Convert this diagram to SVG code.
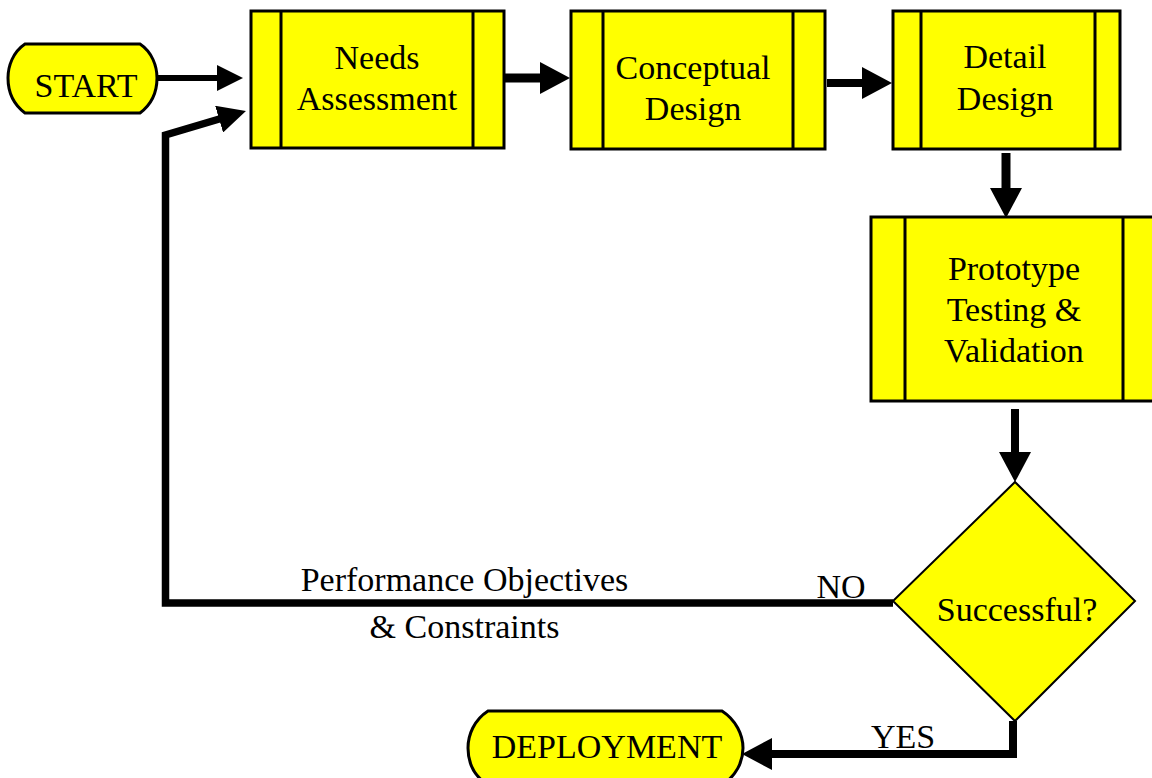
<svg xmlns="http://www.w3.org/2000/svg" width="1152" height="778" viewBox="0 0 1152 778">
<style>
.box{fill:#ffff00;stroke:#000;stroke-width:3}
.div{stroke:#000;stroke-width:3;fill:none}
.dia{fill:#ffff00;stroke:#000;stroke-width:2}
.t{font-family:"Liberation Serif","Times New Roman",serif;font-size:34px;fill:#000;text-anchor:middle}
.c{fill:none;stroke:#000;stroke-linejoin:miter}
</style>
<defs>
<marker id="hs" markerUnits="userSpaceOnUse" viewBox="0 0 26 26" refX="2" refY="13" markerWidth="26" markerHeight="26" orient="auto"><path d="M0,0 L26,13 L0,26 Z" fill="#000"/></marker>
<marker id="hb" markerUnits="userSpaceOnUse" viewBox="0 0 30 32" refX="2" refY="16" markerWidth="30" markerHeight="32" orient="auto"><path d="M0,0 L30,16 L0,32 Z" fill="#000"/></marker>
<marker id="hm" markerUnits="userSpaceOnUse" viewBox="0 0 28 28" refX="2" refY="14" markerWidth="28" markerHeight="28" orient="auto"><path d="M0,0 L28,14 L0,28 Z" fill="#000"/></marker>
</defs>
<rect width="1152" height="778" fill="#fff"/>
<g id="connectors">
<line class="c" x1="157" y1="78" x2="219" y2="78" stroke-width="6" marker-end="url(#hs)"/>
<line class="c" x1="505" y1="78" x2="542" y2="78" stroke-width="9" marker-end="url(#hb)"/>
<line class="c" x1="827" y1="83" x2="864" y2="83" stroke-width="8" marker-end="url(#hb)"/>
<line class="c" x1="1006" y1="153" x2="1006" y2="190" stroke-width="9" marker-end="url(#hb)"/>
<line class="c" x1="1015" y1="409" x2="1015" y2="454" stroke-width="8" marker-end="url(#hb)"/>
<path class="c" d="M893,603 H165.5 V135 L221,118.5" stroke-width="7.5" marker-end="url(#hm)"/>
<path class="c" d="M1013,721 V754 H770" stroke-width="8" marker-end="url(#hb)"/>
<text class="t" x="841" y="598">NO</text>
<text class="t" x="903" y="748">YES</text>
<text class="t" x="464.5" y="591">Performance Objectives</text>
<text class="t" x="464.5" y="638">&amp; Constraints</text>
</g>
<g id="start">
<path class="box" d="M25,44 H140 C152,52 157,66 157,78 C157,92 152,104 140,113 H25 C13,104 8,92 8,78 C8,66 13,52 25,44 Z"/>
<text class="t" x="86" y="97">START</text>
</g>
<g id="needs">
<rect class="box" x="251" y="11" width="253" height="137"/>
<path class="div" d="M281,11 V148 M473,11 V148"/>
<text class="t" x="377" y="69">Needs</text>
<text class="t" x="377" y="110">Assessment</text>
</g>
<g id="conceptual">
<rect class="box" x="571" y="11" width="254" height="138"/>
<path class="div" d="M603,11 V149 M793,11 V149"/>
<text class="t" x="693" y="79">Conceptual</text>
<text class="t" x="693" y="120">Design</text>
</g>
<g id="detail">
<rect class="box" x="893" y="11" width="227" height="138"/>
<path class="div" d="M921,11 V149 M1095,11 V149"/>
<text class="t" x="1005" y="68">Detail</text>
<text class="t" x="1005" y="110">Design</text>
</g>
<g id="prototype">
<rect class="box" x="871" y="217" width="290" height="184"/>
<path class="div" d="M905,217 V401 M1123,217 V401"/>
<text class="t" x="1014" y="280">Prototype</text>
<text class="t" x="1014" y="321">Testing &amp;</text>
<text class="t" x="1014" y="362">Validation</text>
</g>
<g id="decision">
<polygon class="dia" points="1015,482 1135,601 1015,721 893,601"/>
<text class="t" x="1017" y="621">Successful?</text>
</g>
<g id="deployment">
<path class="box" d="M488,711 H722 C736,720 743,735 743,748 C743,762 736,776 722,785 H488 C474,776 468,762 468,748 C468,735 474,720 488,711 Z"/>
<text class="t" x="607" y="758">DEPLOYMENT</text>
</g>
</svg>
